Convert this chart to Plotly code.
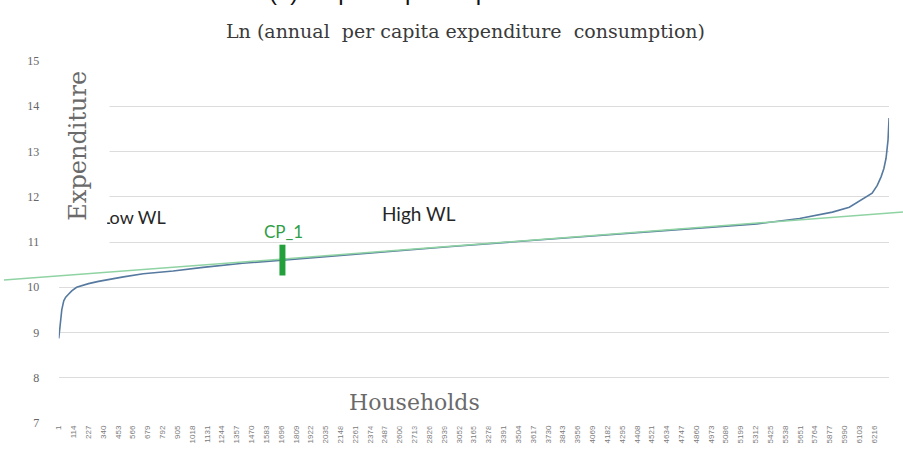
import plotly.graph_objects as go

# ---------------- data ----------------
household_rank = [1, 9, 16, 24, 39, 54, 77, 100, 137, 190, 228, 304, 395, 494, 645, 873,
                  1100, 1403, 1706, 2237, 2995, 3677, 4511, 5322, 5648, 5777, 5898, 6027,
                  6156, 6201, 6240, 6269, 6290, 6307, 6322, 6330]
ln_expenditure = [8.87, 9.05, 9.3, 9.5, 9.7, 9.78, 9.85, 9.92, 10.0, 10.05, 10.08, 10.13,
                  10.18, 10.23, 10.3, 10.36, 10.44, 10.53, 10.6, 10.73, 10.9, 11.05, 11.23,
                  11.4, 11.52, 11.6, 11.66, 11.77, 12.0, 12.08, 12.25, 12.44, 12.62, 12.85,
                  13.25, 13.74]

trend_rank = [1, 6330]          # linear trend line, read at both data ends
trend_value = [10.25, 11.64]

cp_rank = [1706]
cp_value = [10.6]
cp_label = ["CP_1"]

x_tick_labels = [1, 114, 227, 340, 453, 566, 679, 792, 905, 1018, 1131, 1244, 1357, 1470,
                 1583, 1696, 1809, 1922, 2035, 2148, 2261, 2374, 2487, 2600, 2713, 2826,
                 2939, 3052, 3165, 3278, 3391, 3504, 3617, 3730, 3843, 3956, 4069, 4182,
                 4295, 4408, 4521, 4634, 4747, 4860, 4973, 5086, 5199, 5312, 5425, 5538,
                 5651, 5764, 5877, 5990, 6103, 6216]
y_ticks = [7, 8, 9, 10, 11, 12, 13, 14, 15]

# ---------------- layout helpers ----------------
W, H = 903, 463
M_L, M_R, M_T, M_B = 0, 0, 61, 40
PLOT_L, PLOT_R = 55, 889
plot_h = H - M_T - M_B


def px_x(p):
    return (p - M_L) / (W - M_L - M_R)


def px_y(p):
    return (H - M_B - p) / plot_h


x_lo, x_hi = household_rank[0], household_rank[-1]
ppr = (PLOT_R - PLOT_L) / (x_hi - x_lo)            # pixels per household
x2_lo = x_lo - PLOT_L / ppr
x2_hi = x_hi + (W - PLOT_R) / ppr
slope = (trend_value[1] - trend_value[0]) / (trend_rank[1] - trend_rank[0])
trend_x = [x2_lo, x2_hi]
trend_y = [trend_value[0] + slope * (x - trend_rank[0]) for x in trend_x]

fig = go.Figure()

fig.add_trace(go.Scatter(
    x=household_rank, y=ln_expenditure, mode="lines",
    line=dict(color="#56799f", width=1.6),
    xaxis="x", yaxis="y", hoverinfo="skip", showlegend=False))

fig.add_trace(go.Scatter(
    x=trend_x, y=trend_y, mode="lines",
    line=dict(color="#8fd3a3", width=1.5),
    xaxis="x2", yaxis="y2", hoverinfo="skip", showlegend=False))

fig.add_trace(go.Scatter(
    x=cp_rank, y=cp_value, mode="markers",
    marker=dict(symbol="line-ns", size=22, line=dict(color="#23a03c", width=6)),
    xaxis="x2", yaxis="y2", hoverinfo="skip", showlegend=False))

fig.update_layout(
    width=W, height=H,
    margin=dict(l=M_L, r=M_R, t=M_T, b=M_B),
    paper_bgcolor="white", plot_bgcolor="rgba(0,0,0,0)",
    xaxis=dict(domain=[px_x(PLOT_L), px_x(PLOT_R)], range=[x_lo, x_hi], anchor="y",
               tickmode="array", tickvals=x_tick_labels,
               ticktext=[str(v) for v in x_tick_labels],
               tickangle=-90, tickfont=dict(family="Liberation Sans", size=8, color="#7a7a7a"),
               showgrid=False, zeroline=False, showline=False, ticks=""),
    yaxis=dict(domain=[0, 1], range=[7, 15], anchor="x", tickmode="array", tickvals=y_ticks,
               tickangle=0,
               tickfont=dict(family="Liberation Serif", size=12, color="#666666"),
               gridcolor="#dcdcdc", gridwidth=1, zeroline=False, showline=False,
               ticks="outside", ticklen=16, tickcolor="rgba(0,0,0,0)"),
    xaxis2=dict(domain=[0, 1], range=[x2_lo, x2_hi], anchor="y2", visible=False),
    yaxis2=dict(domain=[0, 1], range=[7, 15], anchor="x2", visible=False),
)

# white box behind the vertical axis title (hides the grid lines there)
fig.add_shape(type="rect", xref="paper", yref="paper",
              x0=px_x(52), x1=px_x(106), y0=px_y(50), y1=px_y(246),
              fillcolor="white", line=dict(width=0), layer="above")

fig.add_annotation(text="(b) Ln per capita expenditure", xref="paper", yref="paper",
                   x=px_x(420), y=px_y(7), xanchor="center", yanchor="bottom",
                   showarrow=False,
                   font=dict(family="Liberation Sans", size=24, color="#111111"))
fig.add_annotation(text="Ln (annual  per capita expenditure  consumption)",
                   xref="paper", yref="paper", x=px_x(464), y=px_y(31),
                   xanchor="center", yanchor="middle", showarrow=False,
                   font=dict(family="DejaVu Serif", size=19, color="#3a3a3a"))
fig.add_annotation(text="Low WL", xref="paper", yref="paper", x=px_x(130), y=px_y(217),
                   xanchor="center", yanchor="middle",
                   showarrow=False, font=dict(family="Lato", size=18, color="#262626"))
fig.add_annotation(text="High WL", xref="paper", yref="paper", x=px_x(417), y=px_y(213),
                   xanchor="center", yanchor="middle",
                   showarrow=False, font=dict(family="Lato", size=19, color="#262626"))
fig.add_annotation(text=cp_label[0], xref="paper", yref="paper", x=px_x(281), y=px_y(232),
                   xanchor="center", yanchor="middle",
                   showarrow=False, font=dict(family="Lato", size=17, color="#2f9e47"))
fig.add_annotation(text="Expenditure", xref="paper", yref="paper", x=px_x(74), y=px_y(146),
                   xanchor="center", yanchor="middle",
                   textangle=-90, showarrow=False, bgcolor="white", borderpad=15,
                   font=dict(family="DejaVu Serif", size=24, color="#6a6a6a"))
fig.add_annotation(text="Households", xref="paper", yref="paper", x=px_x(412), y=px_y(402),
                   xanchor="center", yanchor="middle",
                   showarrow=False, bgcolor="white", borderpad=11,
                   font=dict(family="DejaVu Serif", size=22, color="#6a6a6a"))

fig.write_html("out.html", config={"displayModeBar": False},
               post_script="document.body.style.margin='0px';")
